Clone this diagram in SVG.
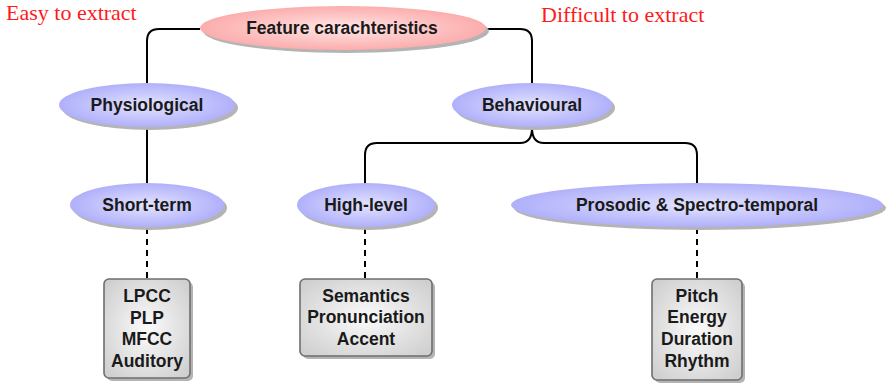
<svg xmlns="http://www.w3.org/2000/svg" width="888" height="386" viewBox="0 0 888 386">
<defs>
<radialGradient id="gBlue" cx="50%" cy="50%" r="50%">
<stop offset="0" stop-color="#e4e4ff"/>
<stop offset="1" stop-color="#b0b0fb"/>
</radialGradient>
<radialGradient id="gRed" cx="50%" cy="50%" r="50%">
<stop offset="0" stop-color="#ffe6e6"/>
<stop offset="1" stop-color="#fcadad"/>
</radialGradient>
<radialGradient id="gGray" cx="50%" cy="50%" r="65%">
<stop offset="0" stop-color="#fbfbfb"/>
<stop offset="1" stop-color="#cfcfcf"/>
</radialGradient>
</defs>
<style>
.shadow{fill:#b4b4b4}
.blue{fill:url(#gBlue)}
.red{fill:url(#gRed)}
.box{fill:url(#gGray);stroke:#6e6e6e;stroke-width:1.6}
.lbl{font-family:"Liberation Sans",Arial,sans-serif;font-weight:bold;font-size:17.5px;fill:#1a1a1a;text-anchor:middle}
.note{font-family:"Liberation Serif","Times New Roman",serif;font-size:22px;fill:#ff1a1a}
.conn{fill:none;stroke:#000;stroke-width:2}
.dash{fill:none;stroke:#000;stroke-width:2;stroke-dasharray:6 5}
</style>
<text class="note" x="6" y="20">Easy to extract</text>
<text class="note" x="541" y="22">Difficult to extract</text>
<g id="connectors">
<path class="conn" d="M200 29 H159 Q147 29 147 41 V84"/>
<path class="conn" d="M486 29 H520 Q532 29 532 41 V84"/>
<path class="conn" d="M147 127 V184"/>
<path class="conn" d="M532 128 Q532 143 520 143 H377 Q365 143 365 155 V184"/>
<path class="conn" d="M532 128 Q532 143 544 143 H685 Q697 143 697 155 V184"/>
<path class="dash" d="M147 228 V278"/>
<path class="dash" d="M365 228 V278"/>
<path class="dash" d="M697 228 V278"/>
</g>
<g id="feature">
<ellipse class="shadow" cx="346" cy="31" rx="143" ry="22"/>
<ellipse class="red" cx="343" cy="28" rx="143" ry="22"/>
<text class="lbl" x="342" y="34">Feature carachteristics</text>
</g>
<g id="physiological">
<ellipse class="shadow" cx="150" cy="108" rx="88" ry="22"/>
<ellipse class="blue" cx="147" cy="105" rx="88" ry="22"/>
<text class="lbl" x="147" y="111">Physiological</text>
</g>
<g id="behavioural">
<ellipse class="shadow" cx="535" cy="108" rx="80" ry="22"/>
<ellipse class="blue" cx="532" cy="105" rx="80" ry="22"/>
<text class="lbl" x="532" y="111">Behavioural</text>
</g>
<g id="shortterm">
<ellipse class="shadow" cx="150" cy="208" rx="77" ry="22"/>
<ellipse class="blue" cx="147" cy="205" rx="77" ry="22"/>
<text class="lbl" x="147" y="211">Short-term</text>
</g>
<g id="highlevel">
<ellipse class="shadow" cx="369" cy="208" rx="69" ry="22"/>
<ellipse class="blue" cx="366" cy="205" rx="69" ry="22"/>
<text class="lbl" x="366" y="211">High-level</text>
</g>
<g id="prosodic">
<ellipse class="shadow" cx="700" cy="208" rx="186" ry="22"/>
<ellipse class="blue" cx="697" cy="205" rx="186" ry="22"/>
<text class="lbl" x="697" y="211">Prosodic &amp; Spectro-temporal</text>
</g>
<g id="box1">
<rect class="shadow" x="107" y="282" width="86" height="99" rx="5"/>
<rect class="box" x="104" y="279" width="86" height="99" rx="5"/>
<text class="lbl" x="147" y="302">LPCC</text>
<text class="lbl" x="147" y="324">PLP</text>
<text class="lbl" x="147" y="345">MFCC</text>
<text class="lbl" x="147" y="367">Auditory</text>
</g>
<g id="box2">
<rect class="shadow" x="303" y="282" width="132" height="77" rx="5"/>
<rect class="box" x="300" y="279" width="132" height="77" rx="5"/>
<text class="lbl" x="366" y="302">Semantics</text>
<text class="lbl" x="366" y="323">Pronunciation</text>
<text class="lbl" x="366" y="345">Accent</text>
</g>
<g id="box3">
<rect class="shadow" x="655" y="282" width="90" height="101" rx="5"/>
<rect class="box" x="652" y="279" width="90" height="101" rx="5"/>
<text class="lbl" x="697" y="302">Pitch</text>
<text class="lbl" x="697" y="323">Energy</text>
<text class="lbl" x="697" y="345">Duration</text>
<text class="lbl" x="697" y="367">Rhythm</text>
</g>
</svg>
